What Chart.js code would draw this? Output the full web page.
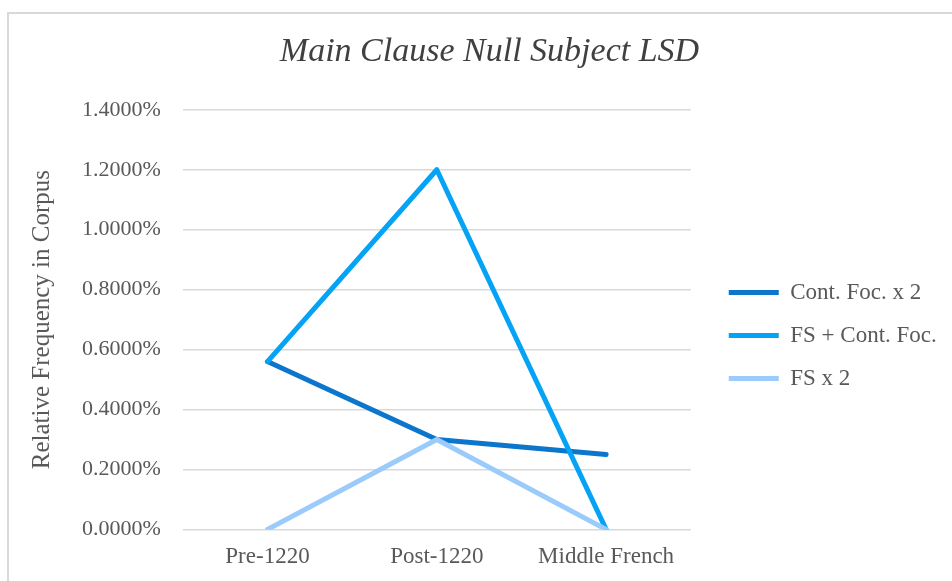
<!DOCTYPE html>
<html>
<head>
<meta charset="utf-8">
<script src="https://cdn.jsdelivr.net/npm/chart.js@4"></script>
<style>
  html, body { margin: 0; padding: 0; background: #fff; }
  body { width: 952px; height: 581px; overflow: hidden; position: relative; }
  #frame {
    position: absolute; left: 7px; top: 12px; width: 945px; height: 569px;
    border-left: 2px solid #d9d9d9; border-top: 2px solid #d9d9d9;
    box-sizing: border-box;
  }
  #chart { display: block; }
</style>
</head>
<body>
<div id="frame"><canvas id="chart" width="943" height="567"></canvas></div>
<script>
// ---------------- Data ----------------
const periods = ["Pre-1220", "Post-1220", "Middle French"];
const contFoc = [0.56, 0.30, 0.25];     // Cont. Foc. x 2
const fsContFoc = [0.56, 1.20, 0.00];   // FS + Cont. Foc.
const fsTwice = [0.00, 0.30, 0.00];     // FS x 2
const yTicks = [0, 0.2, 0.4, 0.6, 0.8, 1.0, 1.2, 1.4];

const serif = "'Liberation Serif', 'DejaVu Serif', serif";
const grey = "#595959";

function lineSet(label, data, color, order) {
    return {
        label, data, order,
        borderColor: color,
        backgroundColor: color,
        borderWidth: 5,
        borderCapStyle: "round",
        borderJoinStyle: "round",
        pointRadius: 0,
        pointHoverRadius: 0,
        pointStyle: "line",
        tension: 0
    };
}

// widen the legend box and nudge legend / title (Excel places them a bit differently)
const boxNudge = {
    id: "boxNudge",
    afterInit(chart, args, opts) {
        const lg = chart.legend;
        const fit = lg.fit;
        lg.fit = function () { fit.call(this); this.width += opts.legendExtra; };
    },
    afterLayout(chart, args, opts) {
        const lg = chart.legend;
        lg.left += opts.legendDx; lg.right += opts.legendDx;
        lg.top += opts.legendDy; lg.bottom += opts.legendDy;
        const tb = chart.titleBlock;
        tb.left += opts.titleDx; tb.right += opts.titleDx;
    }
};

new Chart(document.getElementById("chart"), {
    type: "line",
    data: {
        labels: periods,
        datasets: [
            lineSet("Cont. Foc. x 2", contFoc, "#0B76CB", 3),
            lineSet("FS + Cont. Foc.", fsContFoc, "#05A3F5", 2),
            lineSet("FS x 2", fsTwice, "#9ACBFA", 1)
        ]
    },
    plugins: [boxNudge],
    options: {
        responsive: false,
        animation: false,
        layout: { padding: { left: 18, right: 20, top: 0, bottom: 4 } },
        plugins: {
            tooltip: { enabled: false },
            boxNudge: { legendExtra: 15, legendDx: 18, legendDy: 40, titleDx: 10 },
            title: {
                display: true,
                text: "Main Clause Null Subject LSD",
                color: "#404040",
                font: { family: serif, size: 34, style: "italic", weight: "normal" },
                padding: { top: 18, bottom: 37 }
            },
            legend: {
                position: "right",
                labels: {
                    usePointStyle: true,
                    pointStyleWidth: 50,
                    color: grey,
                    font: { family: serif, size: 23 },
                    padding: 20,
                    sort: (a, b) => a.datasetIndex - b.datasetIndex
                }
            }
        },
        scales: {
            x: {
                offset: true,
                grid: { display: false },
                border: { display: false },
                ticks: { color: grey, font: { family: serif, size: 23 }, padding: 6 }
            },
            y: {
                min: 0,
                max: 1.4,
                afterBuildTicks: axis => { axis.ticks = yTicks.map(v => ({ value: v })); },
                grid: { color: "#d9d9d9", lineWidth: 1.5, drawTicks: false },
                border: { display: false },
                ticks: {
                    color: grey,
                    font: { family: serif, size: 22 },
                    padding: 22,
                    callback: v => v.toFixed(4) + "%"
                },
                title: {
                    display: true,
                    text: "Relative Frequency in Corpus",
                    color: grey,
                    font: { family: serif, size: 25 },
                    padding: { top: 0, bottom: 3 }
                }
            }
        }
    }
});
</script>
</body>
</html>
